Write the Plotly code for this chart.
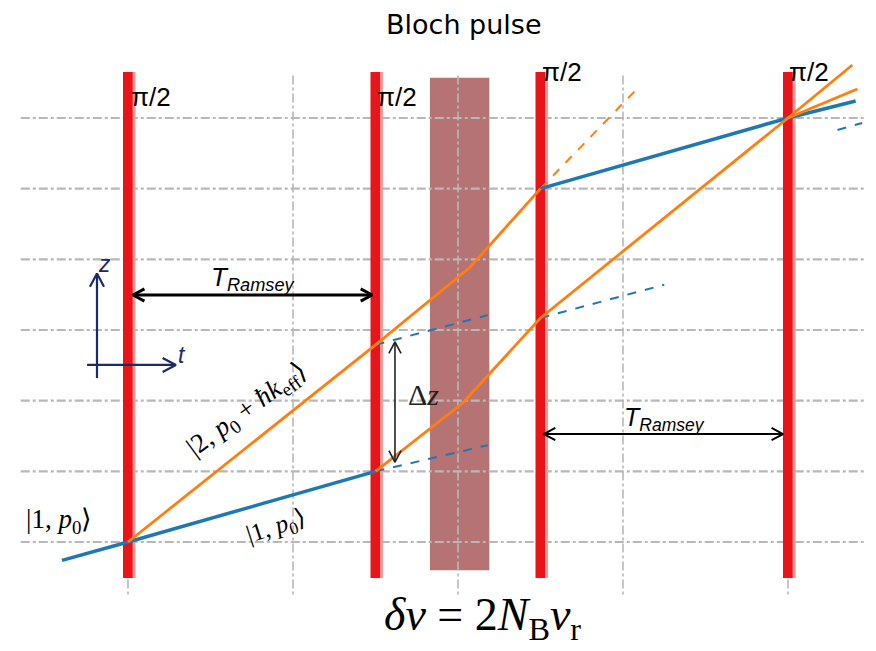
import math
import plotly.graph_objects as go

# ---- data (time in units of grid spacing, height in grid units) ----
grid_x = [0, 1, 2, 3, 4]
grid_y = [0, 1, 2, 3, 4, 5, 6]
pulse_t = [0.0, 1.5, 2.5, 4.0]
pulse_labels = ["π/2", "π/2", "π/2", "π/2"]
pulse_label_pos = [(0.14, 6.30), (1.63, 6.30), (2.63, 6.65), (4.13, 6.65)]
bloch_center = 2.01
bloch_halfwidth = 0.18

blue_solid_a_x = [-0.4, 0.0, 1.5]
blue_solid_a_y = [-0.26, 0.0, 1.0]
blue_solid_b_x = [2.5, 4.0, 4.41]
blue_solid_b_y = [5.0, 6.0, 6.24]
orange_up_x = [0.0, 1.5, 2.07, 2.5]
orange_up_y = [0.0, 2.79, 3.88, 5.0]
orange_low_x = [1.5, 2.03, 2.5, 4.0, 4.39]
orange_low_y = [1.0, 1.97, 3.17, 6.0, 6.75]
orange_end_x = [4.0, 4.42]
orange_end_y = [6.0, 6.41]
blue_dash_segs = [([1.5, 2.18], [1.0, 1.37]), ([1.5, 2.18], [2.79, 3.21]),
                  ([2.5, 3.25], [3.17, 3.64]), ([4.30, 4.45], [5.83, 5.93])]
orange_dash_segs = [([2.5, 3.08], [5.0, 6.4])]

# arrows: (x0, y0, x1, y1)
ramsey_arrows = [(0.03, 3.495, 1.48, 3.495), (2.52, 1.528, 3.97, 1.528)]
dz_arrow = (1.618, 1.13, 1.618, 2.83)
axis_z = (-0.188, 2.32, -0.188, 3.80)
axis_t = (-0.248, 2.505, 0.29, 2.505)

SX, SY = 165.0, 70.67   # pixels per data unit
XR = [-128 / SX, (876 - 128) / SX]
YR = [(542 - 651) / SY, 542 / SY]

BLUE = "#1f77b4"
ORANGE = "#ff7f0e"
RED = "#e8141a"
NAVY = "#1b2a6b"
GRID = "#b8b8b8"

fig = go.Figure()


def add_line(xs, ys, color, width, dash="solid"):
    fig.add_trace(go.Scatter(x=xs, y=ys, mode="lines",
                             line=dict(color=color, width=width, dash=dash),
                             hoverinfo="skip", showlegend=False))


def head(xt, yt, xf, yf, color, width, L=13, ang=28):
    # chevron head at (xt, yt) pointing away from (xf, yf), built in pixel space
    dx, dy = (xt - xf) * SX, (yt - yf) * SY
    n = math.hypot(dx, dy)
    ux, uy = dx / n, dy / n
    xs, ys = [], []
    for s in (1, -1):
        a = math.radians(ang) * s
        rx = ux * math.cos(a) - uy * math.sin(a)
        ry = ux * math.sin(a) + uy * math.cos(a)
        xs.append(xt - L * rx / SX)
        ys.append(yt - L * ry / SY)
    add_line([xs[0], xt, xs[1]], [ys[0], yt, ys[1]], color, width)


def arrow(x0, y0, x1, y1, color, width, both=True, L=13):
    add_line([x0, x1], [y0, y1], color, width)
    head(x1, y1, x0, y0, color, width, L)
    if both:
        head(x0, y0, x1, y1, color, width, L)


# Bloch pulse band
shapes = [dict(type="rect", xref="x", yref="y", layer="below",
               x0=bloch_center - bloch_halfwidth, x1=bloch_center + bloch_halfwidth,
               y0=-0.40, y1=6.57, fillcolor="#b57373", line=dict(width=0))]

# grid lines
for gy in grid_y:
    add_line([-0.65, 4.46], [gy, gy], GRID, 2.2, "dashdot")
for gx in grid_x:
    add_line([gx, gx], [6.6, -0.75], GRID, 1.6, "dashdot")

# red pulses
for t in pulse_t:
    add_line([t, t], [-0.51, 6.65], RED, 10)
    add_line([t + 0.037, t + 0.037], [-0.51, 6.65], "#f49a9a", 3)

# dashed continuations
for xs, ys in blue_dash_segs:
    add_line(xs, ys, BLUE, 2, "dash")
for xs, ys in orange_dash_segs:
    add_line(xs, ys, ORANGE, 2, "dash")

# solid trajectories
for xs, ys, c, w in [(blue_solid_a_x, blue_solid_a_y, BLUE, 3.5),
                     (blue_solid_b_x, blue_solid_b_y, BLUE, 3.5),
                     (orange_up_x, orange_up_y, ORANGE, 2.8),
                     (orange_low_x, orange_low_y, ORANGE, 2.8),
                     (orange_end_x, orange_end_y, ORANGE, 2.8)]:
    add_line(xs, ys, c, w)

# arrows
arrow(*ramsey_arrows[0], "black", 3)
arrow(*ramsey_arrows[1], "black", 2)
arrow(*dz_arrow, "#222222", 1.6)
arrow(*axis_z, NAVY, 2.2, both=False, L=15)
arrow(*axis_t, NAVY, 2.2, both=False, L=15)

SANS = "Liberation Sans, Arial"
SERIF = "Liberation Serif, serif"

annotations = []
for lab, (lx, ly) in zip(pulse_labels, pulse_label_pos):
    annotations.append(dict(x=lx, y=ly, text=lab, showarrow=False,
                            font=dict(family=SANS, size=26, color="black")))

annotations += [
    dict(x=-0.145, y=3.93, text="<i>z</i>", showarrow=False,
         font=dict(family=SANS, size=23, color=NAVY)),
    dict(x=0.33, y=2.65, text="<i>t</i>", showarrow=False,
         font=dict(family=SANS, size=23, color=NAVY)),
    dict(x=0.76, y=3.73, text="<i>T<sub>Ramsey</sub></i>", showarrow=False,
         font=dict(family=SANS, size=26, color="black")),
    dict(x=3.25, y=1.74, text="<i>T<sub>Ramsey</sub></i>", showarrow=False,
         font=dict(family=SANS, size=25, color="black")),
    dict(x=1.79, y=2.09, text="Δ<i>z</i>", showarrow=False,
         font=dict(family=SERIF, size=30, color="#222222")),
    dict(x=-0.42, y=0.30, text="|1, <i>p</i><sub>0</sub>⟩", showarrow=False,
         font=dict(family=SERIF, size=27, color="black")),
    dict(x=0.90, y=0.20, text="|1, <i>p</i><sub>0</sub>⟩", showarrow=False, textangle=-18,
         font=dict(family=SERIF, size=25, color="black")),
    dict(x=0.725, y=1.87, text="|2, <i>p</i><sub>0</sub> + <i>ħk</i><sub>eff</sub>⟩", showarrow=False,
         textangle=-36, font=dict(family=SERIF, size=27, color="black")),
    dict(x=2.15, y=-1.08, yanchor="middle",
         text="<i>δv</i> = 2<i>N</i><sub>B</sub><i>v</i><sub>r</sub>", showarrow=False,
         font=dict(family=SERIF, size=46, color="black")),
    dict(xref="paper", yref="paper", x=464 / 876, y=1 - 25 / 651, xanchor="center", yanchor="middle",
         text="Bloch pulse", showarrow=False,
         font=dict(family="DejaVu Sans, Open Sans", size=27, color="black")),
]

fig.update_layout(
    width=876, height=651, margin=dict(l=0, r=0, t=0, b=0),
    paper_bgcolor="white", plot_bgcolor="white",
    xaxis=dict(range=XR, visible=False, fixedrange=True),
    yaxis=dict(range=YR, visible=False, fixedrange=True),
    shapes=shapes, annotations=annotations, showlegend=False,
)

fig.write_html("out.html")
